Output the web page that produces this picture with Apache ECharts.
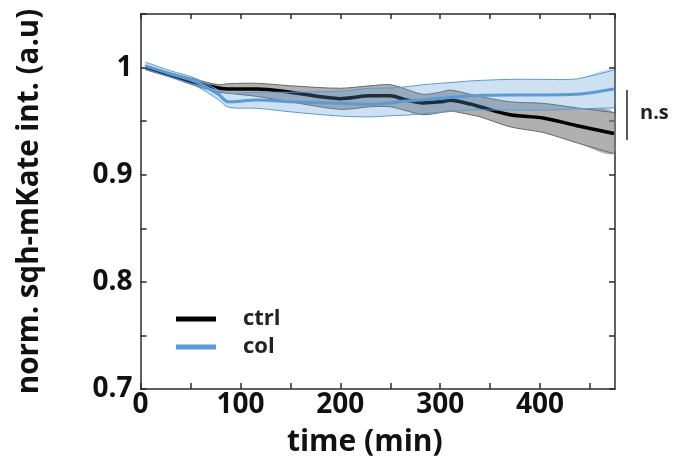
<!DOCTYPE html>
<html>
<head>
<meta charset="utf-8">
<script src="https://cdn.jsdelivr.net/npm/echarts@6/dist/echarts.min.js"></script>
<style>html,body{margin:0;padding:0;background:#fff;}#c{width:673px;height:463px;}</style>
</head>
<body>
<div id="c"></div>
<script>
var times = [5, 30, 55, 78, 88, 117, 150, 200, 230, 250, 265, 283, 300, 310, 330, 340, 370, 403, 436, 474];
var ctrlMean  = [1.0, 0.993, 0.986, 0.981, 0.980, 0.980, 0.977, 0.971, 0.9737, 0.9737, 0.970, 0.967, 0.968, 0.9694, 0.966, 0.9634, 0.956, 0.953, 0.946, 0.9385];
var ctrlUpper = [1.002, 0.995, 0.989, 0.984, 0.985, 0.9853, 0.983, 0.9807, 0.983, 0.984, 0.980, 0.975, 0.977, 0.979, 0.975, 0.973, 0.968, 0.9666, 0.9625, 0.958];
var ctrlLower = [0.998, 0.991, 0.983, 0.977, 0.976, 0.973, 0.968, 0.961, 0.9634, 0.9634, 0.960, 0.956, 0.958, 0.9594, 0.956, 0.954, 0.9447, 0.9394, 0.930, 0.9197];
var colMean  = [1.0016, 0.994, 0.987, 0.975, 0.968, 0.9697, 0.968, 0.9666, 0.9657, 0.967, 0.9688, 0.970, 0.9713, 0.972, 0.9737, 0.974, 0.9744, 0.9744, 0.975, 0.980];
var colUpper = [1.005, 0.997, 0.990, 0.979, 0.976, 0.977, 0.977, 0.978, 0.9807, 0.981, 0.982, 0.984, 0.9853, 0.986, 0.9875, 0.988, 0.989, 0.989, 0.9894, 0.9978];
var colLower = [0.9988, 0.991, 0.983, 0.970, 0.963, 0.962, 0.9587, 0.9547, 0.954, 0.955, 0.9556, 0.957, 0.958, 0.959, 0.9603, 0.9605, 0.9603, 0.9603, 0.9613, 0.9625];
var yTickLabels = [0.7, 0.8, 0.9, 1];
var xTickLabels = [0, 100, 200, 300, 400];
var seriesNames = ['ctrl', 'col'];

function pairs(xs, ys) { return xs.map(function (x, i) { return [x, ys[i]]; }); }
function bandItems(xs, lo, hi) { return xs.map(function (x, i) { return [x, lo[i], hi[i]]; }); }

var FONT = '"Open Sans", sans-serif';
var AX = '#2b2b2b';
var BLUE = '#5b9bd5';
var SM = 0.3;

function bandRenderer(xs, lo, hi, fill, edge) {
  return function (params, api) {
    if (params.dataIndex !== 0) return null;
    var up = [], dn = [];
    for (var i = 0; i < xs.length; i++) { up.push(api.coord([xs[i], hi[i]])); dn.push(api.coord([xs[i], lo[i]])); }
    var poly = up.concat(dn.slice().reverse());
    return {type: 'group', children: [
      {type: 'polygon', shape: {points: poly, smooth: SM}, style: {fill: fill, stroke: null}},
      {type: 'polyline', shape: {points: up, smooth: SM}, style: {fill: null, stroke: edge, lineWidth: 1}},
      {type: 'polyline', shape: {points: dn, smooth: SM}, style: {fill: null, stroke: edge, lineWidth: 1}}
    ]};
  };
}

var chart = echarts.init(document.getElementById('c'), null, {renderer: 'canvas'});
chart.setOption({
  animation: false,
  backgroundColor: '#ffffff',
  grid: {left: 140.6, right: 58, top: 14, bottom: 74, containLabel: false, outerBoundsMode: 'none'},
  xAxis: [{
    type: 'value', min: 0, max: 475, interval: 50,
    name: 'time (min)', nameLocation: 'middle', nameGap: 38,
    nameTextStyle: {fontFamily: FONT, fontSize: 30, fontWeight: 'bold', color: '#111', padding: [0, 26, 0, 0]},
    axisLine: {show: true, onZero: false, lineStyle: {color: AX, width: 1.5}},
    axisTick: {show: true, inside: true, length: 6, lineStyle: {color: AX, width: 1.5}},
    axisLabel: {margin: 2, fontFamily: FONT, fontSize: 28, fontWeight: 'bold', color: '#111',
      showMaxLabel: false,
      formatter: function (v) { return xTickLabels.indexOf(v) >= 0 ? String(v) : ''; }},
    splitLine: {show: false}
  }, {
    type: 'value', position: 'top', min: 0, max: 475, interval: 50,
    axisLine: {show: true, onZero: false, lineStyle: {color: AX, width: 1.5}},
    axisTick: {show: true, inside: true, length: 5, lineStyle: {color: AX, width: 1.5}},
    axisLabel: {show: false}, splitLine: {show: false}
  }],
  yAxis: [{
    type: 'value', min: 0.7, max: 1.05, interval: 0.05,
    name: 'norm. sqh-mKate int. (a.u)', nameLocation: 'middle', nameGap: 96, nameRotate: 90,
    nameTextStyle: {fontFamily: FONT, fontSize: 29.5, fontWeight: 'bold', color: '#111'},
    axisLine: {show: true, onZero: false, lineStyle: {color: AX, width: 1.5}},
    axisTick: {show: true, inside: true, length: 6, lineStyle: {color: AX, width: 1.5}},
    axisLabel: {margin: 8, fontFamily: FONT, fontSize: 28, fontWeight: 'bold', color: '#111',
      formatter: function (v) {
        var r = Math.round(v * 100) / 100;
        for (var i = 0; i < yTickLabels.length; i++) { if (Math.abs(yTickLabels[i] - r) < 1e-6) return String(yTickLabels[i]); }
        return '';
      }},
    splitLine: {show: false}
  }, {
    type: 'value', position: 'right', min: 0.7, max: 1.05, interval: 0.05,
    axisLine: {show: true, onZero: false, lineStyle: {color: AX, width: 1.5}},
    axisTick: {show: true, inside: true, length: 6, lineStyle: {color: AX, width: 1.5}},
    axisLabel: {show: false}, splitLine: {show: false}
  }],
  legend: {
    data: seriesNames, orient: 'vertical', left: 176, top: 308, padding: 0,
    icon: 'rect', itemWidth: 40, itemHeight: 5, itemGap: 6,
    textStyle: {fontFamily: FONT, fontSize: 22, fontWeight: 'bold', color: '#222', lineHeight: 22, padding: [0, 0, 0, 22]}
  },
  series: [
    {name: 'ctrl-band', type: 'custom', data: bandItems(times, ctrlLower, ctrlUpper),
      renderItem: bandRenderer(times, ctrlLower, ctrlUpper, 'rgba(128,128,128,0.62)', '#666'), silent: true, z: 1, clip: true},
    {name: 'ctrl', type: 'line', data: pairs(times, ctrlMean), symbol: 'none', smooth: SM, itemStyle: {color: '#000'},
      lineStyle: {color: '#000', width: 3.5}, z: 2},
    {name: 'col-band', type: 'custom', data: bandItems(times, colLower, colUpper),
      renderItem: bandRenderer(times, colLower, colUpper, 'rgba(91,155,213,0.3)', BLUE), silent: true, z: 3, clip: true},
    {name: 'col', type: 'line', data: pairs(times, colMean), symbol: 'none', smooth: SM, itemStyle: {color: BLUE},
      lineStyle: {color: BLUE, width: 3}, z: 4}
  ],
  graphic: [
    {type: 'line', shape: {x1: 627, y1: 90, x2: 627, y2: 140}, style: {stroke: '#222', lineWidth: 1.5}},
    {type: 'text', left: 640, top: 103, style: {text: 'n.s', fontFamily: FONT, fontSize: 20, fontWeight: 'bold', fill: '#222'}}
  ]
});
</script>
</body>
</html>
